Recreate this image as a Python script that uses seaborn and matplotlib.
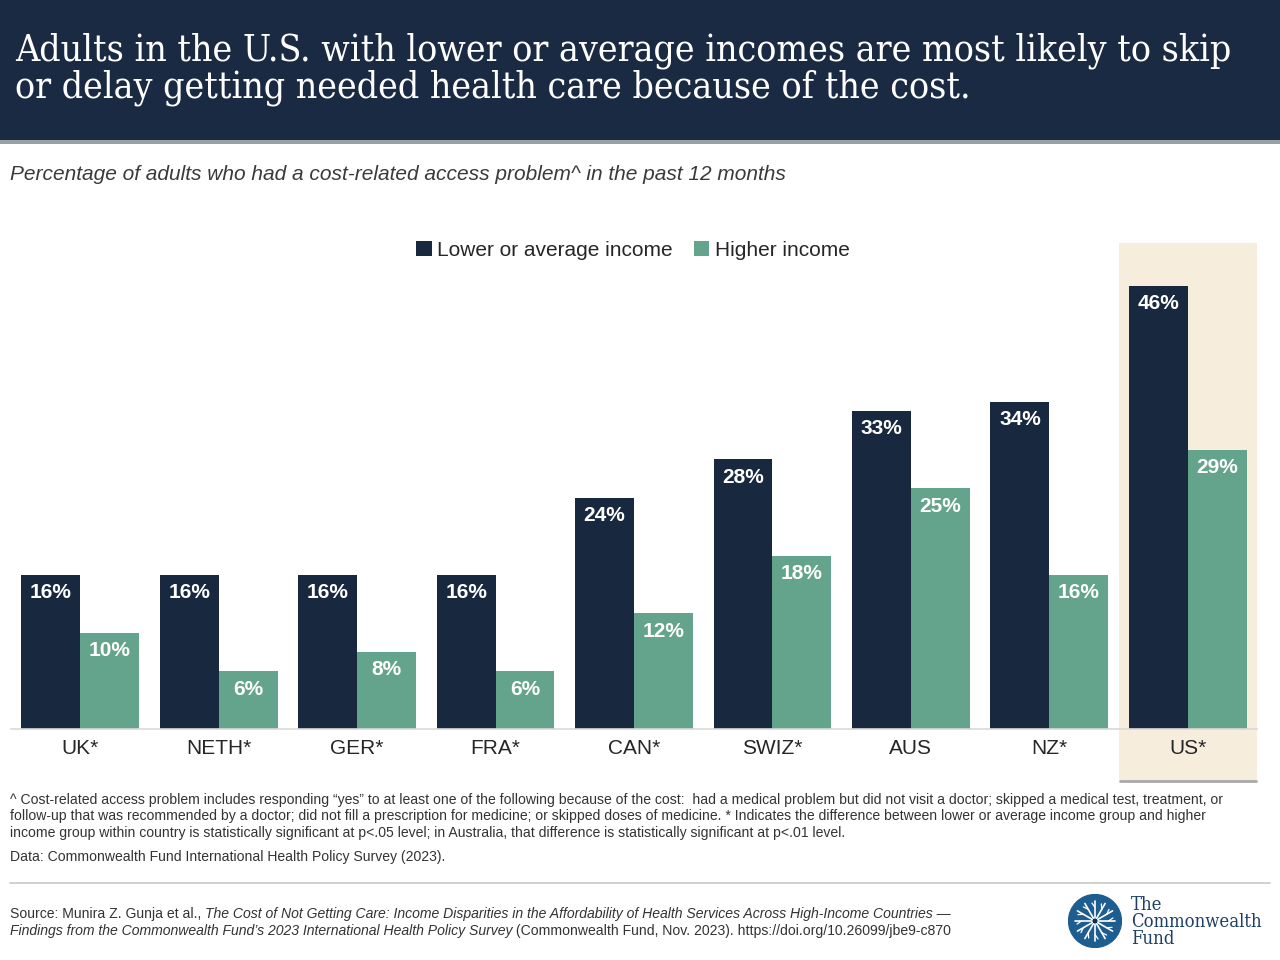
import numpy as np
import pandas as pd
import matplotlib
matplotlib.use('Agg')
import matplotlib.pyplot as plt
import seaborn as sns
from matplotlib.patches import Rectangle, Circle

countries = ['UK*', 'NETH*', 'GER*', 'FRA*', 'CAN*', 'SWIZ*', 'AUS', 'NZ*', 'US*']
lower_avg = [16, 16, 16, 16, 24, 28, 33, 34, 46]
higher = [10, 6, 8, 6, 12, 18, 25, 16, 29]
groups = ['Lower or average income', 'Higher income']

navy = '#18293f'
green = '#64a48d'
header_col = '#1b2a43'
beige = '#f7eddc'

sns.set_theme(style='white')
plt.rcParams['font.family'] = ['Liberation Sans', 'DejaVu Sans']

df = pd.DataFrame({
    'country': countries * 2,
    'pct': lower_avg + higher,
    'group': [groups[0]] * len(countries) + [groups[1]] * len(countries),
})

fig = plt.figure(figsize=(12.8, 9.6), dpi=100)
W, H = 1280, 960

def fx(px):
    return px / W

def fy(py):
    return 1 - py / H

# header band
fig.patches.append(Rectangle((0, fy(140)), 1, 140 / H, transform=fig.transFigure,
                             facecolor=header_col, edgecolor='none', zorder=0))
fig.patches.append(Rectangle((0, fy(144)), 1, 4 / H, transform=fig.transFigure,
                             facecolor='#9aa0a8', edgecolor='none', zorder=0))
fig.text(fx(15), fy(69), 'Adults in the U.S. with lower or average incomes are most likely to skip\n'
         'or delay getting needed health care because of the cost.',
         family=['DejaVu Serif'], fontstretch='condensed', fontsize=26.8, color='white',
         va='center', ha='left', linespacing=1.03)

fig.text(fx(10), fy(175), 'Percentage of adults who had a cost-related access problem^ in the past 12 months',
         fontsize=15, style='italic', color='#3a3a3a', va='center', ha='left')

# chart
ax = fig.add_axes([fx(11), fy(729), fx(1257 - 11), 481.6 / H])
sns.barplot(data=df, x='country', y='pct', hue='group', order=countries, hue_order=groups,
            palette=[navy, green], width=0.85, saturation=1, linewidth=0, ax=ax, zorder=2)
ax.set_ylim(0, 50)
ax.set_xlim(-0.5, len(countries) - 0.5)
ax.set_xlabel('')
ax.set_ylabel('')
ax.set_yticks([])
ax.patch.set_alpha(0)
for s in ['top', 'left', 'right']:
    ax.spines[s].set_visible(False)
ax.spines['bottom'].set_color('#d9d9d9')
ax.spines['bottom'].set_linewidth(1.2)
ax.tick_params(axis='x', length=0, pad=7, labelsize=15, labelcolor='#262626')

# US highlight
us = countries.index('US*')
ax.add_patch(Rectangle((us - 0.5, -0.106), 1.0, 1.115, transform=ax.get_xaxis_transform(),
                       facecolor=beige, edgecolor='none', clip_on=False, zorder=0))
ax.plot([us - 0.49, us + 0.49], [-0.108, -0.108], transform=ax.get_xaxis_transform(),
        color='#a8a8a8', lw=2, clip_on=False, zorder=0)

for cont in ax.containers:
    for bar in cont:
        h = bar.get_height()
        ax.annotate(f'{h:.0f}%', (bar.get_x() + bar.get_width() / 2, h),
                    xytext=(0, -6), textcoords='offset points', ha='center', va='top',
                    fontsize=15, fontweight='bold', color='white', zorder=3)

handles, labels = ax.get_legend_handles_labels()
ax.legend_.remove()
fig.legend(handles, labels, loc='center', bbox_to_anchor=(fx(633), fy(250)), ncol=2,
           frameon=False, fontsize=15, handlelength=0.75, handleheight=0.75,
           handletextpad=0.25, columnspacing=1.0, labelcolor='#262626')

# footnotes
note = ('^ Cost-related access problem includes responding \u201cyes\u201d to at least one of the following because of the cost:  had a medical problem but did not visit a doctor; skipped a medical test, treatment, or\n'
        'follow-up that was recommended by a doctor; did not fill a prescription for medicine; or skipped doses of medicine. * Indicates the difference between lower or average income group and higher\n'
        'income group within country is statistically significant at p<.05 level; in Australia, that difference is statistically significant at p<.01 level.')
fig.text(fx(10), fy(793), note, fontsize=10.1, color='#333333', va='top', ha='left', linespacing=1.22)
fig.text(fx(10), fy(857), 'Data: Commonwealth Fund International Health Policy Survey (2023).',
         fontsize=10.1, color='#333333', va='center', ha='left')

fig.add_artist(plt.Line2D([fx(10), fx(1270)], [fy(883), fy(883)], color='#c8c8c8', lw=1.2))

# source with mixed italics
renderer = fig.canvas.get_renderer()

def runs(parts, y):
    x = fx(10)
    for txt, st in parts:
        t = fig.text(x, y, txt, fontsize=10.1, style=st, color='#333333', va='center', ha='left')
        bb = t.get_window_extent(renderer=renderer)
        x += bb.width / W

runs([('Source: Munira Z. Gunja et al., ', 'normal'),
      ('The Cost of Not Getting Care: Income Disparities in the Affordability of Health Services Across High-Income Countries \u2014', 'italic')],
     fy(914))
runs([('Findings from the Commonwealth Fund\u2019s 2023 International Health Policy Survey', 'italic'),
      (' (Commonwealth Fund, Nov. 2023). https://doi.org/10.26099/jbe9-c870', 'normal')],
     fy(931))

# logo
lx, ly, r = 1095, 921, 27
logo = fig.add_axes([fx(lx - r), fy(ly + r), 2 * r / W, 2 * r / H])
logo.set_xlim(-1, 1)
logo.set_ylim(-1, 1)
logo.axis('off')
logo.add_patch(Circle((0, 0), 0.98, color='#1d5d8f'))
for a in np.linspace(0, 2 * np.pi, 12, endpoint=False):
    logo.plot([0.12 * np.cos(a), 0.75 * np.cos(a)], [0.12 * np.sin(a), 0.75 * np.sin(a)],
              color='white', lw=1.2)
    logo.plot([0.5 * np.cos(a), 0.5 * np.cos(a) + 0.2 * np.cos(a + 0.6)],
              [0.5 * np.sin(a), 0.5 * np.sin(a) + 0.2 * np.sin(a + 0.6)], color='white', lw=0.9)
logo.add_patch(Circle((0, 0), 0.1, color='#0d2f50'))
fig.text(fx(1131), fy(922), 'The\nCommonwealth\nFund', family=['DejaVu Serif'],
         fontstretch='condensed', fontsize=13.2, color='#1d3f66', va='center', ha='left',
         linespacing=0.9)

fig.savefig('out.png', dpi=100)
